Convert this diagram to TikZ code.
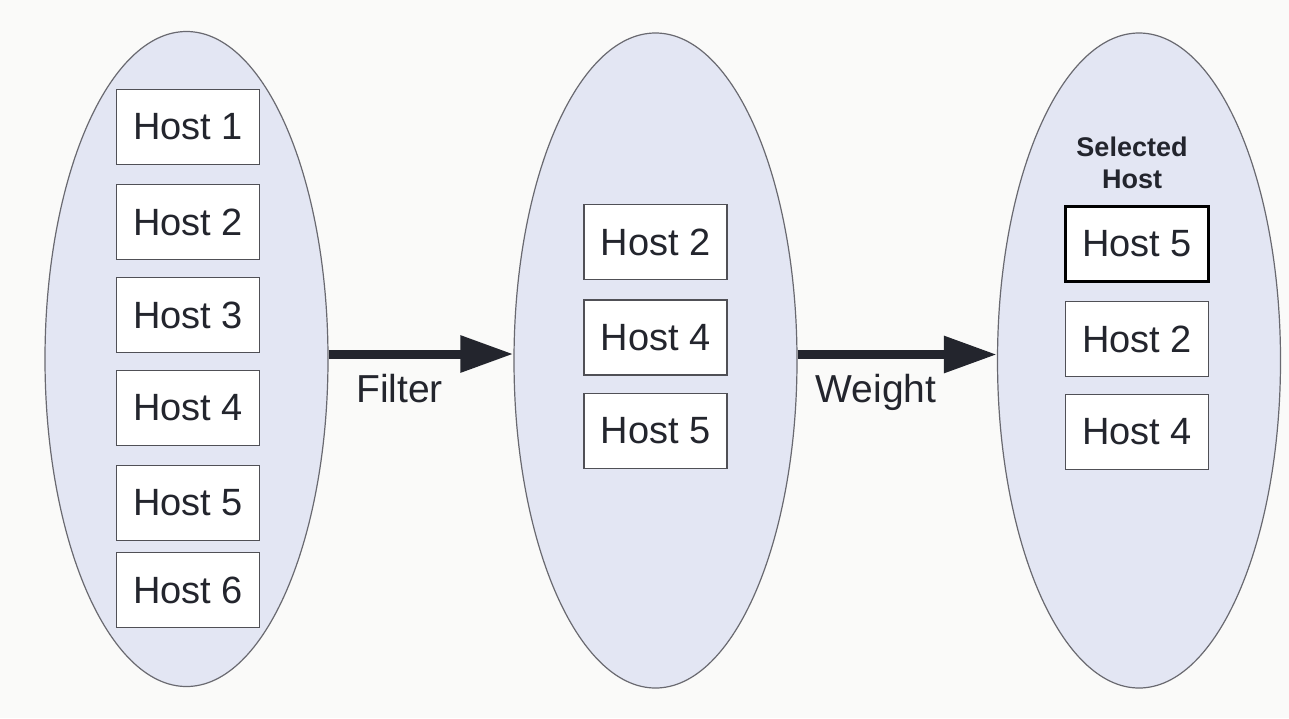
\documentclass[tikz,border=0pt]{standalone}
\usepackage{fontspec}
\setmainfont{Liberation Sans}
\usetikzlibrary{shapes.geometric,arrows.meta}

\definecolor{pagebg}{RGB}{250,250,249}
\definecolor{poolfill}{RGB}{227,230,243}
\definecolor{poolline}{RGB}{105,105,112}
\definecolor{boxline}{RGB}{80,80,86}
\definecolor{inktext}{RGB}{35,37,45}

\tikzset{
  pool/.style={ellipse, draw=poolline, line width=1.2pt, fill=poolfill,
    minimum width=283pt, minimum height=655pt, inner sep=0pt},
  hostbox/.style={draw=boxline, line width=1.4pt, fill=white,
    minimum width=143pt, minimum height=75pt, inner sep=0pt,
    font=\fontsize{38}{44}\selectfont, text=inktext},
  chosen/.style={hostbox, draw=black, line width=3pt},
  flow/.style={draw=inktext, line width=9pt,
    -{Triangle[length=53pt,width=35pt]}},
  steplabel/.style={font=\fontsize{39}{44}\selectfont, text=inktext,
    anchor=base, inner sep=0pt},
  picklabel/.style={font=\fontsize{27}{32}\selectfont\bfseries,
    text=inktext, align=center, inner sep=0pt}
}

\begin{document}
\begin{tikzpicture}[x=1pt, y=-1pt]
  % page
  \fill[pagebg] (0,0) rectangle (1289,718);
  \useasboundingbox (0,0) rectangle (1289,718);

  % the three host pools
  \node[pool] (e1) at (186.5,359) {};
  \node[pool] (e2) at (655.5,360.5) {};
  \node[pool] (e3) at (1139,360.5) {};

  % all hosts
  \node[hostbox] (a1) at (188,127) {Host 1};
  \node[hostbox] (a2) at (188,222) {Host 2};
  \node[hostbox] (a3) at (188,315) {Host 3};
  \node[hostbox] (a4) at (188,408) {Host 4};
  \node[hostbox] (a5) at (188,503) {Host 5};
  \node[hostbox] (a6) at (188,590) {Host 6};

  % hosts passing the filter
  \node[hostbox] (b2) at (655.5,242) {Host 2};
  \node[hostbox] (b4) at (655.5,337.5) {Host 4};
  \node[hostbox] (b5) at (655.5,431) {Host 5};

  % hosts ordered by weight
  \node[picklabel] (sel) at (1132,163) {Selected\\Host};
  \node[chosen]  (c5) at (1137,243.5) {Host 5};
  \node[hostbox] (c2) at (1137,339) {Host 2};
  \node[hostbox] (c4) at (1137,432) {Host 4};

  % steps
  \draw[flow] ([yshift=5pt]e1.east) -- ([yshift=5pt]e1.east -| e2.west);
  \draw[flow] ([yshift=6pt]e2.east) -- ([yshift=6pt]e2.east -| e3.west);

  \node[steplabel] (filt) at (399.5,402) {Filter};
  \node[steplabel] (wgt) at (876,402) {Weight};
\end{tikzpicture}
\end{document}
